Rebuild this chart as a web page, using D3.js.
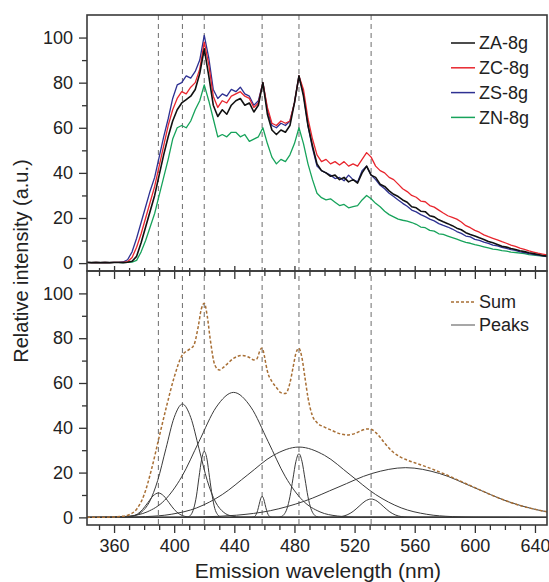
<!DOCTYPE html>
<html>
<head>
<meta charset="utf-8">
<script src="https://cdn.jsdelivr.net/npm/d3@7"></script>
<style>
  body { margin: 0; background: #fff; }
  text { font-family: "Liberation Sans", Arial, sans-serif; fill: #222; }
</style>
</head>
<body>
<svg id="chart" width="549" height="582"></svg>
<script>
// wavelength grid of the measured spectra (nm)
var wl = [
  342,345,348,351,354,357,360,363,366,369,
  372,375,378,381,384,387,390,393,396,399,
  402,405,408,411,414,417,420,423,426,429,
  432,435,438,441,444,447,450,453,456,459,
  462,465,468,471,474,477,480,483,486,489,
  492,495,498,501,504,507,510,513,516,519,
  522,525,528,531,534,537,540,543,546,549,
  552,555,558,561,564,567,570,573,576,579,
  582,585,588,591,594,597,600,603,606,609,
  612,615,618,621,624,627,630,633,636,639,
  642,645,648
];

var za = [
  0.3,0.2,0.3,0.2,0.3,0.2,0.3,0.3,0.2,0.4,
  0.8,3,9,16,23,30,39,48,56,63,
  68,71,72.5,74,77,84,95,83,70,65,
  68,66,70,72,73,70,71,67,70,80,
  66,59,57,59,58,61,71,83,74,61,
  52,44,41,40,38.5,39,37,38,36,37,
  35.5,40,43,39,38,35,34,32,30.5,29.5,
  28,27,25,24.5,23,22.8,21,20.5,19.2,18.3,
  17.5,16.6,15.5,14.8,13.5,12.7,12,11.2,10.5,9.6,
  9,8.3,7.5,7.1,6.5,6,5.5,5.1,4.6,4.2,
  3.8,3.4,3.1
];
var zc = [
  0.3,0.2,0.3,0.2,0.3,0.2,0.3,0.3,0.3,0.6,
  2.5,7,13,20,27,34,43,52,61,68,
  73,76,75,78,80,86,98,88,74,69,
  72,71,74,75,76,74,73,69,71,80,
  69,62,61,63,62,63,71,83,77,64,
  55,48,45,46,44,45,43.5,45,43,44,
  43,46,49,47,43,41,40,38,37,35,
  33,31.7,30,29.2,27.5,27.2,25.5,24.8,23.5,22.2,
  21,20.3,19.5,18.2,16.6,15.7,14.5,13.7,12.5,11.7,
  11,10.3,9.5,8.8,8,7.4,6.6,6.1,5.4,4.9,
  4.4,4,3.6
];
var zs = [
  0.3,0.2,0.3,0.2,0.3,0.2,0.3,0.3,0.5,1.5,
  5,11,18,25,32,38,47,56,64,73,
  79,80,83,82,85,90,101,91,77,73,
  75,74,77,76,78,75,74,70,72,80,
  68,61,60,62,61,63,71,83,75,61,
  51,43,41,40,39,37.5,38,36.5,39,37,
  36,41,43,39,37,34.5,33,31,29.5,28,
  26.5,25.2,23.5,22.7,21.5,20.6,19.5,18.7,17.5,16.7,
  16,15.1,14,13.2,12,11.6,10.5,10.1,9.3,8.7,
  8,7.6,7,6.5,6,5.6,5,4.7,4.2,3.9,
  3.5,3.2,3
];
var zn = [
  0.3,0.2,0.3,0.2,0.3,0.2,0.3,0.3,0.2,0.3,
  0.4,1.2,5,10,16,22,30,38,46,55,
  60,61,60,63,68,72,79,72,64,56,
  57,56,58,58,56,57,54,55,56,60,
  53,47,44,46,45,48,53,60,53,44,
  37,31,29,28,28.5,27,25.5,26,24.5,25,
  25.5,28,30,28.5,26.5,25,23,21.5,20.5,19.5,
  19,18.6,18,17.2,16,15.7,14.5,14.2,13,12.7,
  12,11.3,10.6,9.9,9.2,8.8,8.2,7.7,7.2,6.7,
  6.2,6,5.5,5.3,4.9,4.7,4.4,4.2,3.8,3.6,
  3.3,3.1,2.9
];

var seriesNames = ["ZA-8g", "ZC-8g", "ZS-8g", "ZN-8g"];
var seriesColors = ["#111111", "#e8262e", "#2e3192", "#17a35b"];
var seriesValues = [za, zc, zs, zn];

// fitted components [nm, intensity]
var peak1 = [[342,0],[365,0.02],[368.5,0.12],[372,0.48],[375.5,1.47],[379,3.54],[382.5,6.61],[386,9.62],[389.5,10.9],[393,9.62],[396.5,6.61],[400,3.54],[403.5,1.47],[407,0.48],[410.5,0.12],[414,0.02],[648,0]];
var peak2 = [[342,0],[367,0.11],[372.5,0.56],[378,2.22],[383.5,6.85],[389,16.43],[394.5,30.69],[400,44.65],[405.5,50.6],[411,44.65],[416.5,30.69],[422,16.43],[427.5,6.85],[433,2.22],[438.5,0.56],[444,0.11],[648,0]];
var peak3 = [[342,0],[407.8,0.06],[409.5,0.33],[411.3,1.3],[413,3.99],[414.8,9.58],[416.5,17.89],[418.3,26.03],[420,29.5],[421.8,26.03],[423.5,17.89],[425.3,9.58],[427,3.99],[428.8,1.3],[430.5,0.33],[432.3,0.06],[648,0]];
var peak4 = [[342,0],[359,0.12],[370.5,0.62],[382,2.45],[393.5,7.55],[405,18.12],[416.5,33.84],[428,49.24],[439.5,55.8],[451,49.24],[462.5,33.84],[474,18.12],[485.5,7.55],[497,2.45],[508.5,0.62],[520,0.12],[648,0]];
var peak5 = [[342,0],[451.5,0.02],[452.5,0.1],[453.5,0.41],[454.5,1.27],[455.5,3.05],[456.5,5.7],[457.5,8.3],[458.5,9.4],[459.5,8.3],[460.5,5.7],[461.5,3.05],[462.5,1.27],[463.5,0.41],[464.5,0.1],[465.5,0.02],[648,0]];
var peak6 = [[342,0],[469,0.06],[471,0.32],[473,1.25],[475,3.84],[477,9.22],[479,17.22],[481,25.06],[483,28.4],[485,25.06],[487,17.22],[489,9.22],[491,3.84],[493,1.25],[495,0.32],[497,0.06],[648,0]];
var peak7 = [[342,0.01],[364,0.07],[381,0.35],[398,1.38],[415,4.25],[432,10.2],[449,19.04],[466,27.71],[483,31.4],[500,27.71],[517,19.04],[534,10.2],[551,4.25],[568,1.38],[585,0.35],[602,0.07],[648,0]];
var peak8 = [[342,0],[503,0.02],[507,0.09],[511,0.36],[515,1.11],[519,2.66],[523,4.97],[527,7.24],[531,8.2],[535,7.24],[539,4.97],[543,2.66],[547,1.11],[551,0.36],[555,0.09],[559,0.02],[648,0]];
var peak9 = [[342,0],[396.5,0.05],[419,0.25],[441.5,0.97],[464,3],[486.5,7.21],[509,13.46],[531.5,19.59],[554,22.2],[576.5,19.59],[599,13.46],[621.5,7.21],[644,3],[666.5,0.97]];
var peakList = [peak1, peak2, peak3, peak4, peak5, peak6, peak7, peak8, peak9];

var sumCurve = [[342,0],[345,0.02],[350,0.05],[355,0.1],[360,0.2],[365,0.45],[370,1.2],[375,3.65],[380,10.1],[385,21.7],[390,35.9],[395,49.8],[400,62.6],[405,72],[410,75],[413,76.8],[416,85.2],[418,92.9],[420,95.6],[422,89.8],[424,79.4],[427,68.1],[430,65.8],[433,67.1],[436,69],[440,71.2],[445,72.3],[450,71.4],[453,70.3],[455,70.8],[456,72.4],[457,74.5],[458.5,75.6],[460,72.1],[461,68.4],[462,65.3],[465,60.7],[468,58],[471,55.7],[474,55.3],[477,60],[479,66.7],[481,73.3],[483,75.5],[485,71.2],[487,62.4],[489,53.5],[492,45.3],[495,42.3],[500,40.3],[505,38.8],[510,37.4],[515,36.8],[520,37.4],[525,38.9],[528,39.5],[531,39.3],[535,37.3],[540,33.2],[545,29.5],[550,27.1],[555,25.6],[560,24.4],[570,22],[580,19.3],[590,16.3],[600,13.3],[610,10.3],[620,7.6],[630,5.3],[640,3.6],[648,2.5]];

var peakCenters = [389.5, 405.5, 420, 458.5, 483, 531];

var majorX = [360, 400, 440, 480, 520, 560, 600, 640];
var minorX = [350, 370, 380, 390, 410, 420, 430, 450, 460, 470, 490, 500, 510, 530, 540, 550, 570, 580, 590, 610, 620, 630];
var majorY = [0, 20, 40, 60, 80, 100];
var minorY = [10, 30, 50, 70, 90];

var x = d3.scaleLinear().domain([342, 648]).range([87, 547]);
var yTop = d3.scaleLinear().domain([-3.5, 110]).range([271, 15]);
var yBot = d3.scaleLinear().domain([-3.4, 110]).range([525, 271]);

var svg = d3.select("#chart");
var defs = svg.append("defs");

function addClip(id, ys) {
  defs.append("clipPath").attr("id", id).append("rect")
    .attr("x", x.range()[0]).attr("y", ys.range()[1])
    .attr("width", x.range()[1] - x.range()[0])
    .attr("height", ys.range()[0] - ys.range()[1]);
}
addClip("clipTop", yTop);
addClip("clipBot", yBot);

// dashed markers at the component centres, through both panels
svg.append("g").selectAll("line")
  .data(peakCenters)
  .enter().append("line")
  .attr("x1", function(d) { return x(d); })
  .attr("x2", function(d) { return x(d); })
  .attr("y1", yTop.range()[1])
  .attr("y2", yBot.range()[0])
  .style("stroke", "#7a7a7a")
  .style("stroke-width", 1.1)
  .style("stroke-dasharray", "5,4");

// top panel: measured spectra
var specLine = d3.line()
  .x(function(d, i) { return x(wl[i]); })
  .y(function(d) { return yTop(d); });

var gTop = svg.append("g").attr("clip-path", "url(#clipTop)");
for (var s = seriesValues.length - 1; s >= 0; s--) {
  gTop.append("path")
    .datum(seriesValues[s])
    .attr("d", specLine)
    .style("fill", "none")
    .style("stroke", seriesColors[s])
    .style("stroke-width", s == 0 ? 1.6 : 1.3)
    .style("stroke-linejoin", "round");
}

// bottom panel: components and their sum
var fitLine = d3.line()
  .x(function(d) { return x(d[0]); })
  .y(function(d) { return yBot(d[1]); })
  .curve(d3.curveMonotoneX);

var gBot = svg.append("g").attr("clip-path", "url(#clipBot)");
gBot.selectAll("path.peak")
  .data(peakList)
  .enter().append("path")
  .attr("class", "peak")
  .attr("d", fitLine)
  .style("fill", "none")
  .style("stroke", "#3a3a3a")
  .style("stroke-width", 1);

gBot.append("path")
  .datum(sumCurve)
  .attr("d", fitLine)
  .style("fill", "none")
  .style("stroke", "#a86f35")
  .style("stroke-width", 1.5)
  .style("stroke-dasharray", "3,2");

// axes
function styleAxis(g) {
  g.select(".domain").remove();
  g.attr("font-size", 18).attr("font-family", "'Liberation Sans', Arial, sans-serif");
  g.selectAll(".tick line").style("stroke", "#333").style("stroke-width", 1.3);
  g.selectAll(".tick text").style("fill", "#222");
}

function yAxis(scale) {
  svg.append("g").attr("transform", "translate(" + x.range()[0] + ",0)")
    .call(d3.axisLeft(scale).tickValues(majorY).tickSize(8).tickPadding(6).tickFormat(d3.format("d")))
    .call(styleAxis);
  svg.append("g").attr("transform", "translate(" + x.range()[0] + ",0)")
    .call(d3.axisLeft(scale).tickValues(minorY).tickSize(5).tickFormat(""))
    .call(styleAxis);
}
yAxis(yTop);
yAxis(yBot);

function xAxis(y0, labels) {
  svg.append("g").attr("transform", "translate(0," + y0 + ")")
    .call(d3.axisBottom(x).tickValues(majorX).tickSize(8).tickPadding(6)
      .tickFormat(labels ? d3.format("d") : ""))
    .call(styleAxis);
  svg.append("g").attr("transform", "translate(0," + y0 + ")")
    .call(d3.axisBottom(x).tickValues(minorX).tickSize(5).tickFormat(""))
    .call(styleAxis);
}
xAxis(yTop.range()[0], false);
xAxis(yBot.range()[0], true);

// the shared border also carries ticks pointing up into the top panel
svg.append("g").attr("transform", "translate(0," + yTop.range()[0] + ")")
  .call(d3.axisTop(x).tickValues(majorX).tickSize(5).tickFormat(""))
  .call(styleAxis);
svg.append("g").attr("transform", "translate(0," + yTop.range()[0] + ")")
  .call(d3.axisTop(x).tickValues(minorX).tickSize(3).tickFormat(""))
  .call(styleAxis);

// panel frames
[yTop, yBot].forEach(function(ys) {
  svg.append("rect")
    .attr("x", x.range()[0]).attr("y", ys.range()[1])
    .attr("width", x.range()[1] - x.range()[0])
    .attr("height", ys.range()[0] - ys.range()[1])
    .style("fill", "none")
    .style("stroke", "#3a3a3a")
    .style("stroke-width", 1.6);
});

// legends
var legTop = svg.append("g");
seriesNames.forEach(function(name, i) {
  var ly = 43 + i * 24.8;
  legTop.append("line")
    .attr("x1", 451).attr("x2", 475).attr("y1", ly).attr("y2", ly)
    .style("stroke", seriesColors[i]).style("stroke-width", 1.5);
  legTop.append("text")
    .attr("x", 479).attr("y", ly).attr("dy", "0.35em")
    .attr("font-size", 18).text(name);
});

var legBot = svg.append("g");
legBot.append("line")
  .attr("x1", 451).attr("x2", 475).attr("y1", 302).attr("y2", 302)
  .style("stroke", "#a86f35").style("stroke-width", 1.3).style("stroke-dasharray", "3,2");
legBot.append("text").attr("x", 479).attr("y", 302).attr("dy", "0.35em")
  .attr("font-size", 18).text("Sum");
legBot.append("line")
  .attr("x1", 451).attr("x2", 475).attr("y1", 325).attr("y2", 325)
  .style("stroke", "#777").style("stroke-width", 1.3);
legBot.append("text").attr("x", 479).attr("y", 325).attr("dy", "0.35em")
  .attr("font-size", 18).text("Peaks");

// axis titles
svg.append("text")
  .attr("transform", "translate(28,261) rotate(-90)")
  .attr("text-anchor", "middle")
  .attr("font-size", 20)
  .text("Relative intensity (a.u.)");

svg.append("text")
  .attr("x", 318).attr("y", 578)
  .attr("text-anchor", "middle")
  .attr("font-size", 21)
  .text("Emission wavelength (nm)");
</script>
</body>
</html>
